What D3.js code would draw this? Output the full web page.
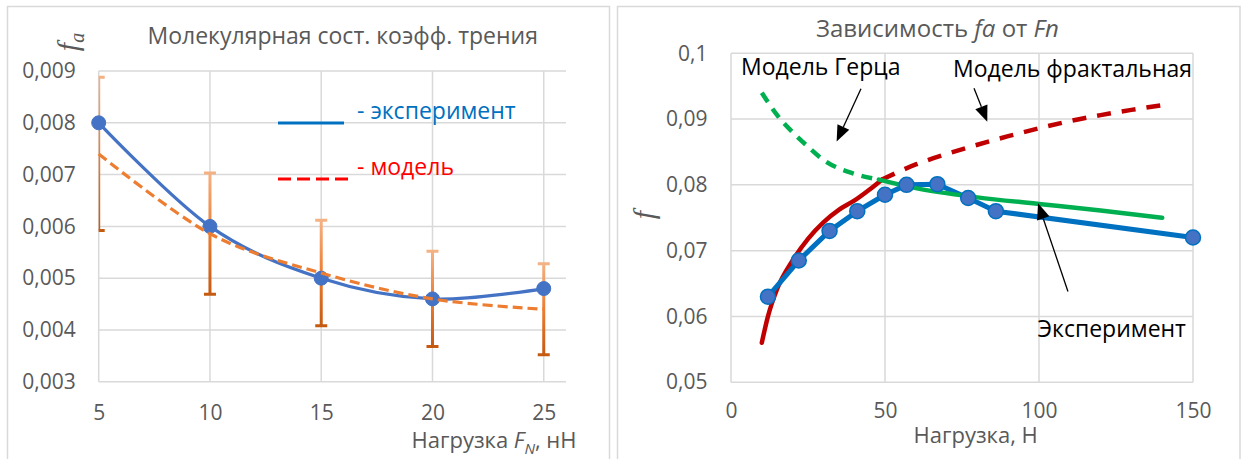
<!DOCTYPE html>
<html>
<head>
<meta charset="utf-8">
<script src="https://cdn.jsdelivr.net/npm/d3@7"></script>
<style>
  body { margin: 0; background: #fff; }
  svg { display: block; }
  text { font-family: 'Open Sans', 'Noto Sans', sans-serif; }
</style>
</head>
<body>
<svg id="chart" width="1246" height="459"></svg>
<script>
// ---------- Left panel: molecular component of the friction coefficient ----------
const loadN = [5, 10, 15, 20, 25];
const faExperiment = [0.0080, 0.0060, 0.0050, 0.0046, 0.0048];
const faModel = [0.00740, 0.00586, 0.00510, 0.00460, 0.00440];
const faModelErr = [0.00148, 0.00117, 0.00102, 0.00092, 0.00088];
const leftYTicks = [0.003, 0.004, 0.005, 0.006, 0.007, 0.008, 0.009];
const leftXTicks = [5, 10, 15, 20, 25];

// ---------- Right panel: f versus normal load ----------
const expLoad = [12, 22, 32, 41, 50, 57, 67, 77, 86, 150];
const expF = [0.0630, 0.0685, 0.0730, 0.0760, 0.0785, 0.0800, 0.0801, 0.0780, 0.0760, 0.0720];
const hertzLoadDashed = [10, 15, 20, 25, 30, 40, 48];
const hertzFDashed = [0.0940, 0.0906, 0.0880, 0.0858, 0.0838, 0.0817, 0.0808];
const hertzLoadSolid = [48, 60, 80, 100, 120, 140];
const hertzFSolid = [0.0808, 0.0795, 0.0781, 0.0771, 0.0761, 0.0750];
const fractalLoadSolid = [10, 12, 15, 20, 25, 30, 35, 40, 45, 49];
const fractalFSolid = [0.0560, 0.0600, 0.0642, 0.0685, 0.0718, 0.0743, 0.0762, 0.0776, 0.0793, 0.0808];
const fractalLoadDashed = [49, 60, 70, 80, 90, 100, 110, 120, 130, 140];
const fractalFDashed = [0.0808, 0.0831, 0.0847, 0.0861, 0.0874, 0.0886, 0.0897, 0.0906, 0.0914, 0.0921];
const rightYTicks = [0.05, 0.06, 0.07, 0.08, 0.09, 0.1];
const rightXTicks = [0, 50, 100, 150];

// Annotation arrows (tail -> tip), in data units
const arrowNotes = [
  { from: [42.2, 0.0946], to: [34.3, 0.0866] },
  { from: [78.9, 0.0947], to: [83.2, 0.0896] },
  { from: [109.4, 0.0638], to: [99.7, 0.0772] }
];

const GRID = '#D9D9D9';
const TXT = '#595959';
const svg = d3.select('#chart');
const defs = svg.append('defs');

// Chart frames
svg.append('rect').attr('x', 7.5).attr('y', 6.5).attr('width', 602).attr('height', 480)
  .attr('fill', '#fff').attr('stroke', GRID).attr('stroke-width', 1.5);
svg.append('rect').attr('x', 617.5).attr('y', 6.5).attr('width', 622.5).attr('height', 480)
  .attr('fill', '#fff').attr('stroke', GRID).attr('stroke-width', 1.5);

function styleAxis(g) {
  g.select('.domain').remove();
  g.selectAll('text').attr('fill', TXT).style('font-size', '21px')
    .style('font-family', "'Open Sans', sans-serif");
}

// ================= LEFT =================
const xL = d3.scaleLinear().domain([5, 26]).range([98.7, 566]);
const yL = d3.scaleLinear().domain([0.003, 0.009]).range([381.8, 71]);
const L = svg.append('g');

// gridlines
L.append('g').selectAll('line').data(leftYTicks).join('line')
  .attr('x1', xL(5)).attr('x2', xL(26)).attr('y1', d => yL(d)).attr('y2', d => yL(d))
  .attr('stroke', GRID).attr('stroke-width', 1.5);
L.append('g').selectAll('line').data(leftXTicks).join('line')
  .attr('x1', d => xL(d)).attr('x2', d => xL(d)).attr('y1', yL(0.009)).attr('y2', yL(0.003))
  .attr('stroke', GRID).attr('stroke-width', 1.5);

L.append('g').attr('transform', `translate(${xL(5)},0)`)
  .call(d3.axisLeft(yL).tickValues(leftYTicks).tickSize(0).tickPadding(23)
    .tickFormat(d => d.toFixed(3).replace('.', ',')))
  .call(styleAxis);
L.append('g').attr('transform', `translate(0,${yL(0.003)})`)
  .call(d3.axisBottom(xL).tickValues(leftXTicks).tickSize(0).tickPadding(23))
  .call(styleAxis);

// clip for plot area
defs.append('clipPath').attr('id', 'clipL').append('rect')
  .attr('x', xL(5)).attr('y', yL(0.009) - 10).attr('width', xL(26) - xL(5))
  .attr('height', yL(0.003) - yL(0.009) + 20);

// error bar gradient
const eg = defs.append('linearGradient').attr('id', 'errGrad')
  .attr('x1', 0).attr('y1', 0).attr('x2', 0).attr('y2', 1);
eg.append('stop').attr('offset', '0%').attr('stop-color', '#F4B183');
eg.append('stop').attr('offset', '50%').attr('stop-color', '#ED7D31');
eg.append('stop').attr('offset', '100%').attr('stop-color', '#C55A11');

const leftPts = loadN.map((x, i) => ({ x, e: faExperiment[i], m: faModel[i], err: faModelErr[i] }));

const eb = L.append('g').attr('clip-path', 'url(#clipL)');
eb.selectAll('rect.bar').data(leftPts).join('rect').attr('class', 'bar')
  .attr('x', d => xL(d.x) - 1.5).attr('width', 3)
  .attr('y', d => yL(d.m + d.err)).attr('height', d => yL(d.m - d.err) - yL(d.m + d.err))
  .attr('fill', 'url(#errGrad)');
eb.selectAll('line.capT').data(leftPts).join('line').attr('class', 'capT')
  .attr('x1', d => xL(d.x) - 6).attr('x2', d => xL(d.x) + 6)
  .attr('y1', d => yL(d.m + d.err)).attr('y2', d => yL(d.m + d.err))
  .attr('stroke', '#F4B183').attr('stroke-width', 3);
eb.selectAll('line.capB').data(leftPts).join('line').attr('class', 'capB')
  .attr('x1', d => xL(d.x) - 6).attr('x2', d => xL(d.x) + 6)
  .attr('y1', d => yL(d.m - d.err)).attr('y2', d => yL(d.m - d.err))
  .attr('stroke', '#C55A11').attr('stroke-width', 3);

const smooth = d3.curveCardinal.tension(0);
L.append('path').datum(leftPts)
  .attr('d', d3.line().x(d => xL(d.x)).y(d => yL(d.e)).curve(smooth))
  .attr('fill', 'none').attr('stroke', '#4472C4').attr('stroke-width', 3.2).attr('stroke-linecap', 'round');
L.append('g').selectAll('circle').data(leftPts).join('circle')
  .attr('cx', d => xL(d.x)).attr('cy', d => yL(d.e)).attr('r', 7)
  .attr('fill', '#4472C4').attr('stroke', '#4472C4').attr('stroke-width', 1);
L.append('path').datum(leftPts)
  .attr('d', d3.line().x(d => xL(d.x)).y(d => yL(d.m)).curve(smooth))
  .attr('fill', 'none').attr('stroke', '#ED7D31').attr('stroke-width', 3.2)
  .attr('stroke-dasharray', '10,5');

// legend
L.append('line').attr('x1', 278).attr('x2', 344).attr('y1', 123).attr('y2', 123)
  .attr('stroke', '#0070C0').attr('stroke-width', 3);
L.append('text').attr('x', 357).attr('y', 119).attr('fill', '#0070C0').style('font-size', '23px')
  .text('- эксперимент');
L.append('line').attr('x1', 278).attr('x2', 350).attr('y1', 179).attr('y2', 179)
  .attr('stroke', '#FF0000').attr('stroke-width', 3).attr('stroke-dasharray', '13,6');
L.append('text').attr('x', 357).attr('y', 175).attr('fill', '#FF0000').style('font-size', '23px')
  .text('- модель');

// titles
L.append('text').attr('x', 147.5).attr('y', 44).attr('fill', TXT).style('font-size', '23px')
  .text('Молекулярная сост. коэфф. трения');
const xtL = L.append('text').attr('x', 411.5).attr('y', 448).attr('fill', TXT).style('font-size', '22px');
xtL.append('tspan').text('Нагрузка ');
xtL.append('tspan').attr('font-style', 'italic').text('F');
xtL.append('tspan').attr('font-style', 'italic').attr('dy', 6).style('font-size', '15px').text('N');
xtL.append('tspan').attr('dy', -6).text(', нН');
const ytL = L.append('text').attr('transform', 'translate(78,42) rotate(-90)')
  .attr('text-anchor', 'middle').attr('fill', TXT)
  .style('font-family', "'Liberation Serif', serif").style('font-size', '30px').attr('font-style', 'italic');
ytL.append('tspan').text('f');
ytL.append('tspan').attr('dy', 6).style('font-size', '20px').text('a');

// ================= RIGHT =================
const xR = d3.scaleLinear().domain([0, 150]).range([731, 1193]);
const yR = d3.scaleLinear().domain([0.05, 0.1]).range([382.2, 53.3]);
const R = svg.append('g');

R.append('g').selectAll('line').data(rightYTicks).join('line')
  .attr('x1', xR(0)).attr('x2', xR(150)).attr('y1', d => yR(d)).attr('y2', d => yR(d))
  .attr('stroke', GRID).attr('stroke-width', 1.5);
R.append('g').selectAll('line').data(rightXTicks).join('line')
  .attr('x1', d => xR(d)).attr('x2', d => xR(d)).attr('y1', yR(0.1)).attr('y2', yR(0.05))
  .attr('stroke', GRID).attr('stroke-width', 1.5);

R.append('g').attr('transform', `translate(${xR(0)},0)`)
  .call(d3.axisLeft(yR).tickValues(rightYTicks).tickSize(0).tickPadding(23.5)
    .tickFormat(d => String(+d.toFixed(2)).replace('.', ',')))
  .call(styleAxis);
R.append('g').attr('transform', `translate(0,${yR(0.05)})`)
  .call(d3.axisBottom(xR).tickValues(rightXTicks).tickSize(0).tickPadding(21))
  .call(styleAxis);

const lineR = d3.line().x(d => xR(d[0])).y(d => yR(d[1])).curve(d3.curveMonotoneX);
const zip = (a, b) => a.map((v, i) => [v, b[i]]);

// Hertz model (green), dashed part
R.append('path').attr('d', lineR(zip(hertzLoadDashed, hertzFDashed)))
  .attr('fill', 'none').attr('stroke', '#00B050').attr('stroke-width', 4.5)
  .attr('stroke-dasharray', '11,8');
// fractal model (red)
R.append('path').attr('d', lineR(zip(fractalLoadDashed, fractalFDashed)))
  .attr('fill', 'none').attr('stroke', '#C00000').attr('stroke-width', 4.5)
  .attr('stroke-dasharray', '14,11');
R.append('path').attr('d', lineR(zip(fractalLoadSolid, fractalFSolid)))
  .attr('fill', 'none').attr('stroke', '#C00000').attr('stroke-width', 4.5).attr('stroke-linecap', 'round');

// experiment
const expPts = zip(expLoad, expF);
R.append('path').attr('d', d3.line().x(d => xR(d[0])).y(d => yR(d[1]))(expPts))
  .attr('fill', 'none').attr('stroke', '#0070C0').attr('stroke-width', 5).attr('stroke-linejoin', 'round');
// Hertz model, solid part
R.append('path').attr('d', lineR(zip(hertzLoadSolid, hertzFSolid)))
  .attr('fill', 'none').attr('stroke', '#00B050').attr('stroke-width', 4.5).attr('stroke-linecap', 'round');
R.append('g').selectAll('circle').data(expPts).join('circle')
  .attr('cx', d => xR(d[0])).attr('cy', d => yR(d[1])).attr('r', 7.5)
  .attr('fill', '#4472C4').attr('stroke', '#0070C0').attr('stroke-width', 1.5);

// arrows
arrowNotes.forEach(a => {
  const x1 = xR(a.from[0]), y1 = yR(a.from[1]), x2 = xR(a.to[0]), y2 = yR(a.to[1]);
  const ang = Math.atan2(y2 - y1, x2 - x1);
  const len = 16, hw = 6.5;
  const bx = x2 - len * Math.cos(ang), by = y2 - len * Math.sin(ang);
  R.append('line').attr('x1', x1).attr('y1', y1).attr('x2', bx).attr('y2', by)
    .attr('stroke', '#000').attr('stroke-width', 1.3);
  const px = -Math.sin(ang) * hw, py = Math.cos(ang) * hw;
  R.append('path').attr('d', `M${x2},${y2}L${bx + px},${by + py}L${bx - px},${by - py}Z`).attr('fill', '#000');
});

// labels
R.append('text').attr('x', 741).attr('y', 75).attr('fill', '#000').style('font-size', '23px').text('Модель Герца');
R.append('text').attr('x', 953).attr('y', 77).attr('fill', '#000').style('font-size', '23px').text('Модель фрактальная');
R.append('text').attr('x', 1037.5).attr('y', 336.5).attr('fill', '#000').style('font-size', '23px').text('Эксперимент');

const tR = R.append('text').attr('x', 816).attr('y', 36.5).attr('fill', TXT).style('font-size', '24px');
tR.append('tspan').text('Зависимость ');
tR.append('tspan').attr('font-style', 'italic').text('fa');
tR.append('tspan').text(' от ');
tR.append('tspan').attr('font-style', 'italic').text('Fn');
R.append('text').attr('x', 913.5).attr('y', 443).attr('fill', TXT).style('font-size', '22px').text('Нагрузка, Н');
R.append('text').attr('transform', 'translate(654,215) rotate(-90)').attr('text-anchor', 'middle')
  .attr('fill', TXT).style('font-family', "'Liberation Serif', serif").style('font-size', '30px')
  .attr('font-style', 'italic').text('f');
</script>
</body>
</html>
